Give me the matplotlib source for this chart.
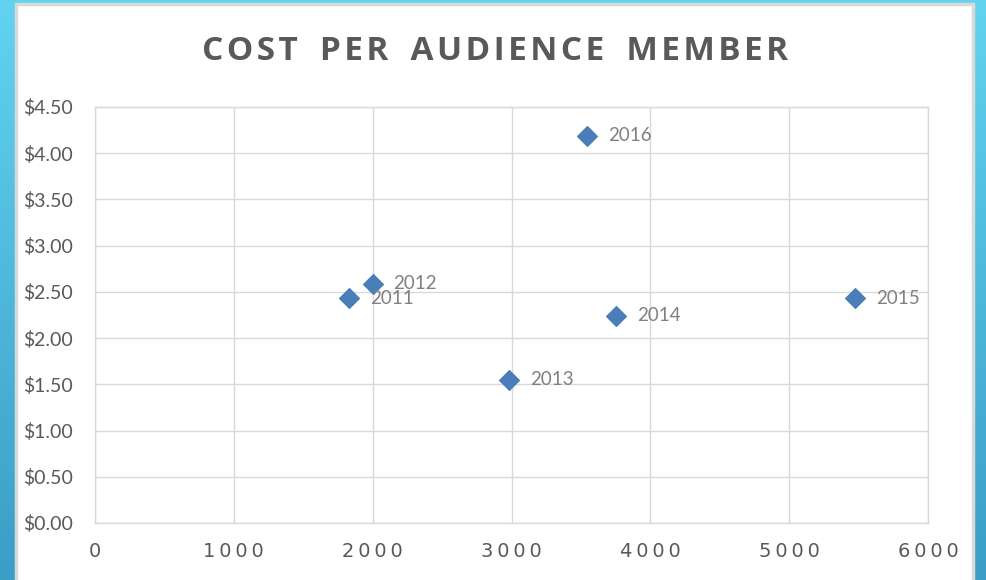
import numpy as np
import matplotlib
matplotlib.use('Agg')
import matplotlib.pyplot as plt
from matplotlib.colors import LinearSegmentedColormap
from matplotlib.patches import Rectangle

# data
years = ['2011', '2012', '2013', '2014', '2015', '2016']
audience = [1830, 2000, 2985, 3755, 5475, 3545]
cost = [2.43, 2.59, 1.55, 2.24, 2.43, 4.19]
title = 'COST PER AUDIENCE MEMBER'

fig = plt.figure(figsize=(9.87, 5.8), dpi=100)

# blue background gradient
bg = fig.add_axes([0, 0, 1, 1])
grad = np.linspace(0, 1, 256).reshape(-1, 1)
cmap = LinearSegmentedColormap.from_list('bg', ['#62d3f0', '#3a9ec6'])
bg.imshow(grad, aspect='auto', cmap=cmap, extent=[0, 1, 1, 0])
bg.set_xlim(0, 1)
bg.set_ylim(1, 0)
bg.axis('off')

# white slide panel
W, H = 987, 580
bg.add_patch(Rectangle((16 / W, 4 / H), (973 - 16) / W, 1.0, facecolor='white',
                       edgecolor='#d9d9d9', linewidth=2.5))

ax = fig.add_axes([95 / W, 1 - 523 / H, (928 - 95) / W, (523 - 107) / H])
ax.set_facecolor('white')
ax.scatter(audience, cost, marker='D', s=100, color='#4a7ebb', zorder=3)
for x, y, lab in zip(audience, cost, years):
    ax.annotate(lab, (x, y), xytext=(15, 0), textcoords='offset points',
                fontsize=13.5, color='#808080', va='center', fontfamily='Lato')

ax.set_xlim(0, 6000)
ax.set_ylim(0, 4.5)
ax.set_xticks(np.arange(0, 6001, 1000))
ax.set_yticks(np.arange(0, 4.51, 0.5))
ax.set_yticklabels(['$%.2f' % v for v in np.arange(0, 4.51, 0.5)],
                   fontfamily='Lato', fontsize=14, color='#595959')
ax.set_xticklabels(['\u2009'.join(str(v)) for v in range(0, 6001, 1000)],
                   fontfamily='DejaVu Sans', fontsize=14, color='#595959')
ax.tick_params(length=0)
ax.tick_params(axis='y', pad=16)
ax.tick_params(axis='x', pad=14)
ax.grid(True, color='#d9d9d9', linewidth=1)
ax.set_axisbelow(True)
for s in ax.spines.values():
    s.set_color('#d9d9d9')
    s.set_linewidth(1)

# letter-spaced title
spaced = '\u200a'.join(title).replace(' ', ' \u200a\u200a')
fig.text(495 / W, 1 - 51 / H, spaced,
         ha='center', va='center', fontsize=24, fontweight='bold', color='#595959',
         family=['Open Sans', 'DejaVu Sans'])

fig.savefig('out.png', dpi=100)
